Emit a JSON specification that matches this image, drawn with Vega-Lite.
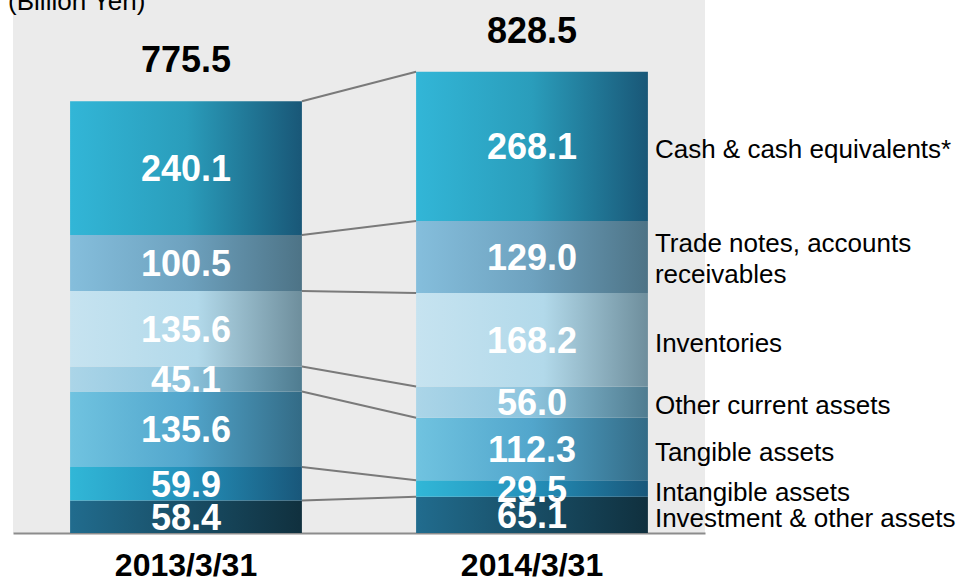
{
  "$schema": "https://vega.github.io/schema/vega-lite/v6.json",
  "width": 692,
  "height": 533,
  "autosize": {"type": "none"},
  "padding": {"left": 13, "top": 0, "right": 258, "bottom": 46},
  "background": "white",
  "config": {
    "view": {"fill": "#ebebeb", "stroke": null},
    "font": "Liberation Sans"
  },
  "datasets": {
    "assets": [
      {"date": "2013/3/31", "cat": "invest", "order": 1, "value": 58.4, "label": "Investment & other assets"},
      {"date": "2013/3/31", "cat": "intangible", "order": 2, "value": 59.9, "label": "Intangible assets"},
      {"date": "2013/3/31", "cat": "tangible", "order": 3, "value": 135.6, "label": "Tangible assets"},
      {"date": "2013/3/31", "cat": "other", "order": 4, "value": 45.1, "label": "Other current assets"},
      {"date": "2013/3/31", "cat": "inventories", "order": 5, "value": 135.6, "label": "Inventories"},
      {"date": "2013/3/31", "cat": "trade", "order": 6, "value": 100.5, "label": "Trade notes, accounts\nreceivables"},
      {"date": "2013/3/31", "cat": "cash", "order": 7, "value": 240.1, "label": "Cash & cash equivalents*"},
      {"date": "2014/3/31", "cat": "invest", "order": 1, "value": 65.1, "label": "Investment & other assets"},
      {"date": "2014/3/31", "cat": "intangible", "order": 2, "value": 29.5, "label": "Intangible assets"},
      {"date": "2014/3/31", "cat": "tangible", "order": 3, "value": 112.3, "label": "Tangible assets"},
      {"date": "2014/3/31", "cat": "other", "order": 4, "value": 56.0, "label": "Other current assets"},
      {"date": "2014/3/31", "cat": "inventories", "order": 5, "value": 168.2, "label": "Inventories"},
      {"date": "2014/3/31", "cat": "trade", "order": 6, "value": 129.0, "label": "Trade notes, accounts\nreceivables"},
      {"date": "2014/3/31", "cat": "cash", "order": 7, "value": 268.1, "label": "Cash & cash equivalents*"}
    ],
    "totals": [
      {"date": "2013/3/31", "total": 775.5},
      {"date": "2014/3/31", "total": 828.5}
    ],
    "note": [
      {"note": "(Billion Yen)"}
    ]
  },
  "data": {"name": "assets"},
  "layer": [
    {
      "transform": [
        {"stack": "value", "groupby": ["date"], "sort": [{"field": "order", "order": "ascending"}], "as": ["y0", "y1"]}
      ],
      "mark": {"type": "bar"},
      "encoding": {
        "x": {
          "field": "date", "type": "nominal", "sort": null,
          "scale": {"paddingInner": 0.33, "paddingOuter": 0.165},
          "axis": {"title": null, "labelAngle": 0, "labelFont": "Liberation Sans", "labelFontSize": 32, "labelFontWeight": "bold", "labelColor": "#000000", "ticks": false, "domainColor": "#8c8c8c", "domainWidth": 2, "labelPadding": 17}
        },
        "y": {"field": "y1", "type": "quantitative", "scale": {"domain": [0, 957], "nice": false, "zero": true}, "axis": null},
        "y2": {"field": "y0"},
        "color": {
          "condition": [
            {"test": "datum.cat === 'cash'", "value": {"gradient": "linear", "stops": [{"offset": 0, "color": "#32b6d7"}, {"offset": 0.5, "color": "#2a9dbb"}, {"offset": 1, "color": "#195777"}]}},
            {"test": "datum.cat === 'trade'", "value": {"gradient": "linear", "stops": [{"offset": 0, "color": "#85bedc"}, {"offset": 0.5, "color": "#6ea2bf"}, {"offset": 1, "color": "#4d7386"}]}},
            {"test": "datum.cat === 'inventories'", "value": {"gradient": "linear", "stops": [{"offset": 0, "color": "#c6e3f0"}, {"offset": 0.55, "color": "#b2d9ea"}, {"offset": 1, "color": "#6e8e9c"}]}},
            {"test": "datum.cat === 'other'", "value": {"gradient": "linear", "stops": [{"offset": 0, "color": "#abd5e8"}, {"offset": 0.5, "color": "#8ec5de"}, {"offset": 1, "color": "#4f7c90"}]}},
            {"test": "datum.cat === 'tangible'", "value": {"gradient": "linear", "stops": [{"offset": 0, "color": "#70c3e0"}, {"offset": 0.5, "color": "#52a6cc"}, {"offset": 1, "color": "#336b86"}]}},
            {"test": "datum.cat === 'intangible'", "value": {"gradient": "linear", "stops": [{"offset": 0, "color": "#31b7d7"}, {"offset": 0.5, "color": "#2491bb"}, {"offset": 1, "color": "#19577a"}]}}
          ],
          "value": {"gradient": "linear", "stops": [{"offset": 0, "color": "#216c8e"}, {"offset": 1, "color": "#10303e"}]}
        }
      }
    },
    {
      "transform": [
        {"stack": "value", "groupby": ["date"], "sort": [{"field": "order", "order": "ascending"}], "as": ["y0", "y1"]},
        {"pivot": "date", "value": "y1", "groupby": ["cat"]}
      ],
      "mark": {"type": "rule", "stroke": "#7a7a7a", "strokeWidth": 2},
      "encoding": {
        "x": {"datum": "2013/3/31", "type": "nominal", "bandPosition": 1},
        "x2": {"datum": "2014/3/31", "bandPosition": 0},
        "y": {"field": "2013/3/31", "type": "quantitative", "scale": {"domain": [0, 957], "nice": false}},
        "y2": {"field": "2014/3/31"}
      }
    },
    {
      "transform": [
        {"stack": "value", "groupby": ["date"], "sort": [{"field": "order", "order": "ascending"}], "as": ["y0", "y1"]},
        {"calculate": "(datum.y0 + datum.y1) / 2", "as": "mid"}
      ],
      "mark": {"type": "text", "color": "white", "font": "Liberation Sans", "fontSize": 36, "fontWeight": "bold", "baseline": "middle", "align": "center", "dy": 2},
      "encoding": {
        "x": {"field": "date", "type": "nominal"},
        "y": {"field": "mid", "type": "quantitative", "scale": {"domain": [0, 957], "nice": false}},
        "text": {"field": "value", "type": "quantitative", "format": ".1f"}
      }
    },
    {
      "transform": [
        {"stack": "value", "groupby": ["date"], "sort": [{"field": "order", "order": "ascending"}], "as": ["y0", "y1"]},
        {"calculate": "(datum.y0 + datum.y1) / 2", "as": "mid"},
        {"filter": "datum.date === '2014/3/31' && datum.cat !== 'trade'"}
      ],
      "mark": {"type": "text", "color": "black", "font": "Liberation Sans", "fontSize": 26, "baseline": "middle", "align": "left", "dx": 7, "dy": 4},
      "encoding": {
        "x": {"field": "date", "type": "nominal", "bandPosition": 1},
        "y": {"field": "mid", "type": "quantitative", "scale": {"domain": [0, 957], "nice": false}},
        "text": {"field": "label", "type": "nominal"}
      }
    },
    {
      "transform": [
        {"stack": "value", "groupby": ["date"], "sort": [{"field": "order", "order": "ascending"}], "as": ["y0", "y1"]},
        {"calculate": "(datum.y0 + datum.y1) / 2", "as": "mid"},
        {"filter": "datum.date === '2014/3/31' && datum.cat === 'trade'"}
      ],
      "mark": {"type": "text", "color": "black", "font": "Liberation Sans", "fontSize": 26, "baseline": "middle", "align": "left", "dx": 7, "dy": -13, "lineBreak": "\n", "lineHeight": 31},
      "encoding": {
        "x": {"field": "date", "type": "nominal", "bandPosition": 1},
        "y": {"field": "mid", "type": "quantitative", "scale": {"domain": [0, 957], "nice": false}},
        "text": {"field": "label", "type": "nominal"}
      }
    },
    {
      "data": {"name": "totals"},
      "mark": {"type": "text", "color": "black", "font": "Liberation Sans", "fontSize": 36, "fontWeight": "bold", "baseline": "alphabetic", "align": "center", "dy": -29},
      "encoding": {
        "x": {"field": "date", "type": "nominal"},
        "y": {"field": "total", "type": "quantitative", "scale": {"domain": [0, 957], "nice": false}},
        "text": {"field": "total", "type": "quantitative", "format": ".1f"}
      }
    },
    {
      "data": {"name": "note"},
      "mark": {"type": "text", "color": "black", "font": "Liberation Sans", "fontSize": 26, "baseline": "alphabetic", "align": "left", "dx": -62},
      "encoding": {
        "x": {"datum": "2013/3/31", "type": "nominal", "bandPosition": 0},
        "y": {"datum": 939, "type": "quantitative", "scale": {"domain": [0, 957], "nice": false}},
        "text": {"field": "note", "type": "nominal"}
      }
    }
  ]
}
